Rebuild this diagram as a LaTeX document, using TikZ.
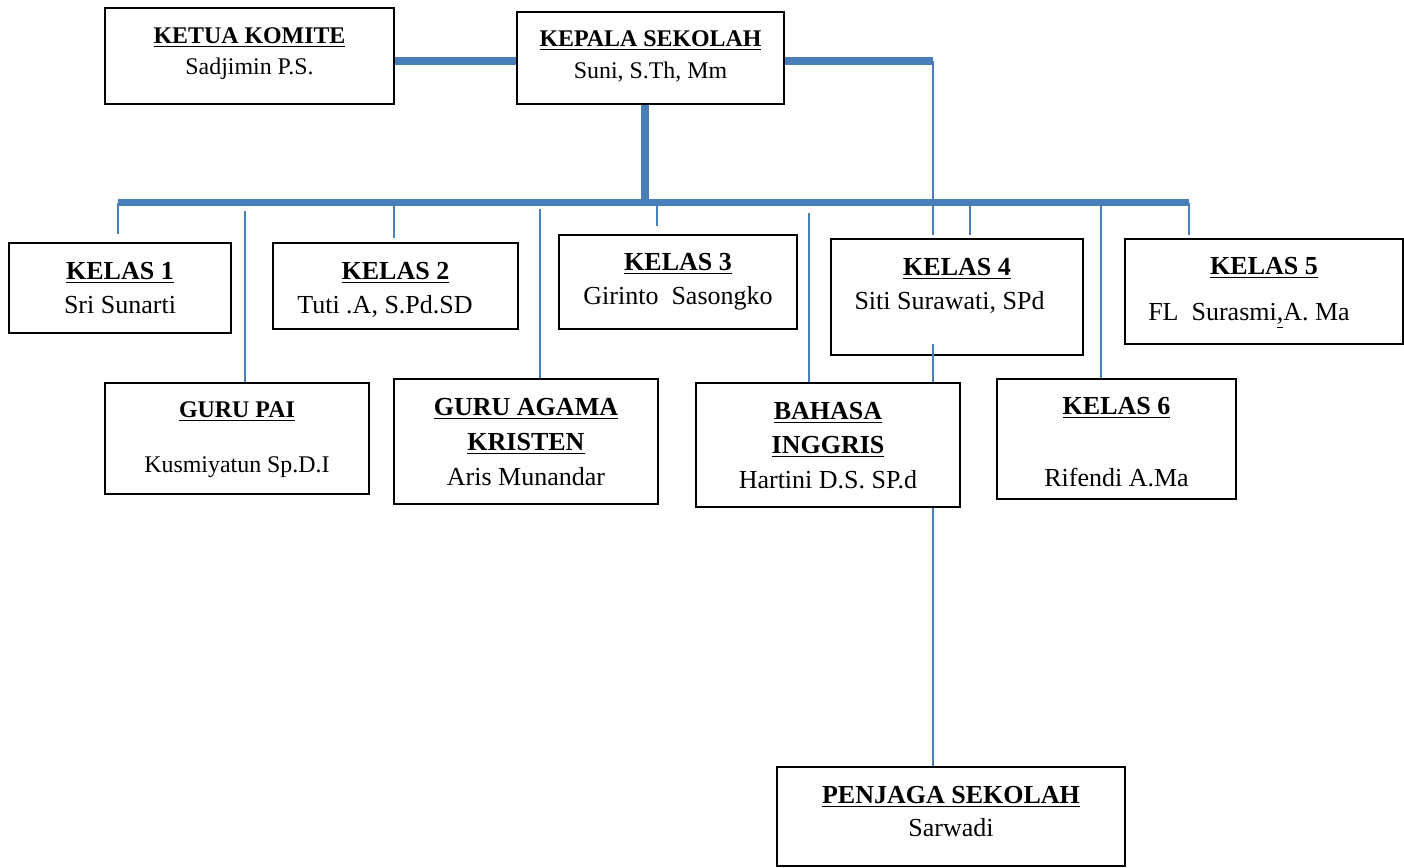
\documentclass[tikz,border=0pt]{standalone}
\usepackage{fontspec}
\setmainfont{Liberation Serif}
\usetikzlibrary{positioning,fit,calc}
\definecolor{orgblue}{RGB}{74,126,187}
\newcommand{\boxtitle}[1]{\underline{\textbf{#1}}}

\begin{document}
\begin{tikzpicture}[
  x=0.02cm, y=-0.02cm,
  box/.style={draw,line width=1pt,inner sep=0pt},
  big/.style={font=\fontsize{14.8}{19}\selectfont,align=center,inner sep=0pt},
  small/.style={font=\fontsize{13.6}{17.8}\selectfont,align=center,inner sep=0pt},
  bus/.style={orgblue,line width=4pt},
  stem/.style={orgblue,line width=1pt},
]
\useasboundingbox (0,0) rectangle (1404,867);

% boxes
\node[box,fit={(105,8)(394,104)}]    (komite)  {};
\node[box,fit={(517,12)(784,104)}]   (kepsek)  {};
\node[box,fit={(9,243)(231,333)}]    (kelas1)  {};
\node[box,fit={(273,243)(518,329)}]  (kelas2)  {};
\node[box,fit={(559,235)(797,329)}]  (kelas3)  {};
\node[box,fit={(831,239)(1083,355)}] (kelas4)  {};
\node[box,fit={(1125,239)(1403,344)}] (kelas5) {};
\node[box,fit={(105,383)(369,494)}]  (gurupai) {};
\node[box,fit={(394,379)(658,504)}]  (guruag)  {};
\node[box,fit={(696,383)(960,507)}]  (bahasa)  {};
\node[box,fit={(997,379)(1236,499)}] (kelas6)  {};
\node[box,fit={(777,767)(1125,866)}] (penjaga) {};

% texts
\node[small,below=0.4cm of komite.north]   (komiteT)  {\boxtitle{KETUA KOMITE}\\Sadjimin P.S.};
\node[small,below=0.39cm of kepsek.north]  (kepsekT)  {\boxtitle{KEPALA SEKOLAH}\\[0.5pt]Suni, S.Th, Mm};
\node[big,below=0.4cm of kelas1.north]     (kelas1T)  {\boxtitle{KELAS 1}\\Sri Sunarti};
\node[big,below=0.4cm of kelas2.north]     (kelas2T)  {\boxtitle{KELAS 2}\\Tuti .A, S.Pd.SD\hspace*{0.42cm}};
\node[big,below=0.38cm of kelas3.north]    (kelas3T)  {\boxtitle{KELAS 3}\\Girinto\ \ Sasongko};
\node[big,below=0.4cm of kelas4.north]     (kelas4T)  {\boxtitle{KELAS 4}\\Siti Surawati, SPd\hspace*{0.3cm}};
\node[big,below=0.37cm of kelas5.north]    (kelas5T)  {\boxtitle{KELAS 5}\\[7.5pt]FL\ \ Surasmi\underline{,}A. Ma\hspace*{0.6cm}};
\node[small,below=0.39cm of gurupai.north] (gurupaiT) {\boxtitle{GURU PAI}\\[13.5pt]Kusmiyatun Sp.D.I};
\node[big,below=0.4cm of guruag.north]     (guruagT)  {\boxtitle{GURU AGAMA}\\[0.8pt]\boxtitle{KRISTEN}\\[0.8pt]Aris Munandar};
\node[big,below=0.39cm of bahasa.north]    (bahasaT)  {\boxtitle{BAHASA}\\[0.8pt]\boxtitle{INGGRIS}\\[0.8pt]Hartini D.S. SP.d};
\node[big,below=0.38cm of kelas6.north]    (kelas6T)  {\boxtitle{KELAS 6}\\[22pt]Rifendi A.Ma};
\node[big,below=0.39cm of penjaga.north]   (penjagaT) {\boxtitle{PENJAGA SEKOLAH}\\Sarwadi};

% thick lines
\coordinate (corner) at (933,61);
\coordinate (hub)    at (645,202.5);
\coordinate (busL)   at (118,202.5);
\coordinate (busR)   at (1189,202.5);
\draw[bus] (komite.east |- corner) -- (kepsek.west |- corner);
\draw[bus] (kepsek.east |- corner) -- (corner);
\draw[bus] (kepsek.south -| hub) -- (hub);
\draw[bus] (busL) -- (busR);

% thin drops from the bus
\foreach \x/\n/\g in {118/kelas1/0.16, 394/kelas2/0.08, 657/kelas3/0.16,
                      970/kelas4/0.06, 1189/kelas5/0.06, 1101/kelas6/0} {
  \coordinate (t) at (\x,202.5);
  \draw[stem,shorten >=\g cm] (t) -- (t |- \n.north);
}
\coordinate (paiTop)  at (245,211);
\coordinate (agTop)   at (540,209);
\coordinate (ingTop)  at (809,213);
\draw[stem] (paiTop) -- (paiTop |- gurupai.north);
\draw[stem] (agTop)  -- (agTop |- guruag.north);
\draw[stem] (ingTop) -- (ingTop |- bahasa.north);

% right hand line
\coordinate (k4in) at (933,344);
\draw[stem,shorten >=0.06cm] (corner) -- (corner |- kelas4.north);
\draw[stem] (k4in) -- (k4in |- bahasa.north);
\draw[stem] (bahasa.south -| k4in) -- (penjaga.north -| k4in);
\end{tikzpicture}
\end{document}
